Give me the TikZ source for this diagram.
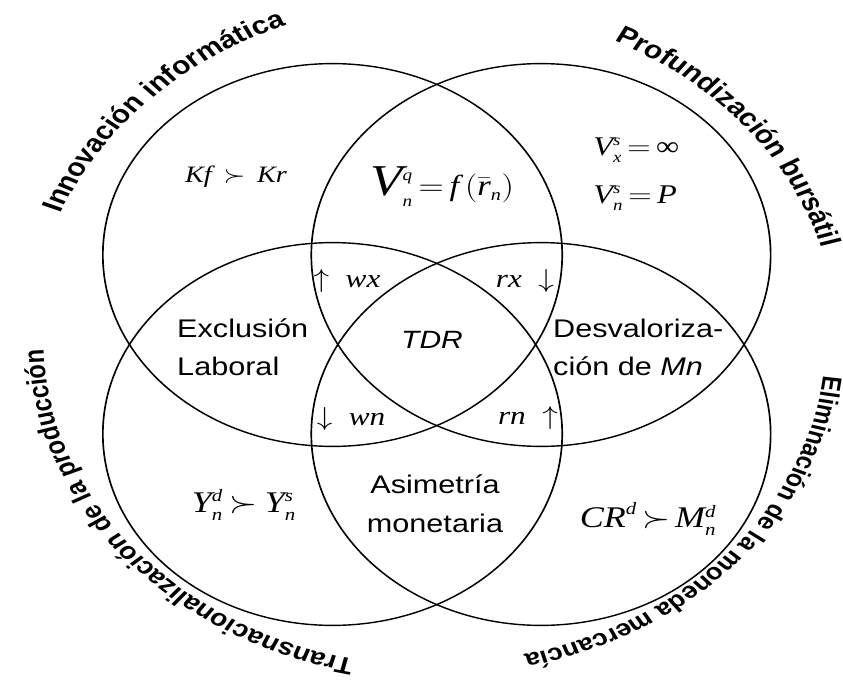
\documentclass[tikz,border=0pt]{standalone}
\usepackage{fix-cm}
\usepackage{amsmath}
\usepackage{fontspec}
\setmainfont{Liberation Serif}
\setsansfont{Liberation Sans}
\usetikzlibrary{decorations.text}
\DeclareMathSizes{23.5}{23.5}{13.6}{10}
\DeclareMathSizes{26}{26}{15}{11}
\DeclareMathSizes{27}{27}{15.7}{11}
\DeclareMathSizes{29}{29}{16.8}{12}
\DeclareMathSizes{30}{30}{17.4}{12.5}
\DeclareMathSizes{44}{44}{25.5}{16}
\tikzset{
  venn/.style={circle, draw, line width=1.4pt, minimum size=382.8pt, inner sep=0pt},
  lab/.style={font=\sffamily\fontsize{25.5}{30}\selectfont, inner sep=0pt},
  mth/.style={font=\fontsize{#1}{#1}\selectfont, inner sep=0pt},
  arclab/.style n args={2}{decorate, decoration={text along path, text align=center,
    text={|\sffamily\bfseries\fontsize{#1}{#1}\selectfont|#2}}},
}
\begin{document}
\begin{tikzpicture}[x=1pt,y=1pt]
\useasboundingbox (0,0) rectangle (843,-680);
\begin{scope}[transform canvas={xscale=1.2}]
\node[venn] (tl) at (277.1,-255) {};
\node[venn] (tr) at (450.8,-255) {};
\node[venn] (bl) at (277.1,-434) {};
\node[venn] (br) at (450.8,-434) {};

\node[mth=23.5] (kf) at (196.7,-177) {\thickmuskip=7.5mu$\mathit{Kf}\succ\mathit{Kr}$};
\node[inner sep=0pt] (vq) at (368.5,-187) {\fontsize{44}{44}\selectfont$\mathit{V}^{\scriptscriptstyle\mathit{q}}_{\scriptscriptstyle\mathit{n}}$\fontsize{29}{29}\selectfont\thickmuskip=3mu$\,=\mathit{f}\left(\bar{\mathit{r}}_{\mathit{n}}\right)$};
\node[mth=27, anchor=west] (vsx) at (494.2,-150) {\thickmuskip=3mu$\mathit{V}^{\mathit{s}}_{\mathit{x}}=\text{∞}$};
\node[mth=27, anchor=west] (vsn) at (494.2,-198) {\thickmuskip=3mu$\mathit{V}^{\mathit{s}}_{\mathit{n}}=\mathit{P}$};

\node[mth=26] (wx) at (289.2,-281) {$\uparrow\ \mathit{wx}$};
\node[mth=26] (rx) at (437.5,-281) {$\mathit{rx}\ \downarrow$};
\node[mth=26] (wn) at (292.5,-419) {$\downarrow\ \mathit{wn}$};
\node[mth=26] (rn) at (440,-418) {$\mathit{rn}\ \uparrow$};

\node[lab, font=\sffamily\itshape\fontsize{25}{30}\selectfont] (tdr) at (360,-340) {TDR};
\node[lab, anchor=base west] (ex1) at (147.5,-337) {Exclusión};
\node[lab, anchor=base west] (ex2) at (147.5,-375) {Laboral};
\node[lab, anchor=base west] (de1) at (460.8,-337) {Desvaloriza-};
\node[lab, anchor=base west] (de2) at (460.8,-375) {ción de \textit{Mn}};
\node[lab, anchor=base] (as1) at (362.5,-493) {Asimetría};
\node[lab, anchor=base] (as2) at (362.5,-532) {monetaria};

\node[mth=30] (yd) at (203.3,-505) {\thickmuskip=3.5mu$\mathit{Y}^{\mathit{d}}_{\mathit{n}}\succ\mathit{Y}^{\mathit{s}}_{\mathit{n}}$};
\node[mth=30] (cr) at (540,-519) {\thickmuskip=2.5mu$\mathit{CR}^{\mathit{d}}\succ\mathit{M}^{\mathit{d}}_{\mathit{n}}$};

\path[arclab={25}{Innovación informática}]
  ([shift={(364.2,-339)}]164.5:338) arc[start angle=164.5, end angle=105.5, radius=338];
\path[arclab={25}{Profundización bursátil}]
  ([shift={(364.2,-339)}]69.8:333) arc[start angle=69.8, end angle=9.8, radius=333];
\path[arclab={23.6}{Transnacionalización de la producción}]
  ([shift={(364.2,-339)}]263.9:328) arc[start angle=263.9, end angle=175.9, radius=328];
\path[arclab={22.8}{Eliminación de la moneda mercancía}]
  ([shift={(364.2,-339)}]-0.8:324) arc[start angle=-0.8, end angle=-82.8, radius=324];
\end{scope}
\end{tikzpicture}
\end{document}
